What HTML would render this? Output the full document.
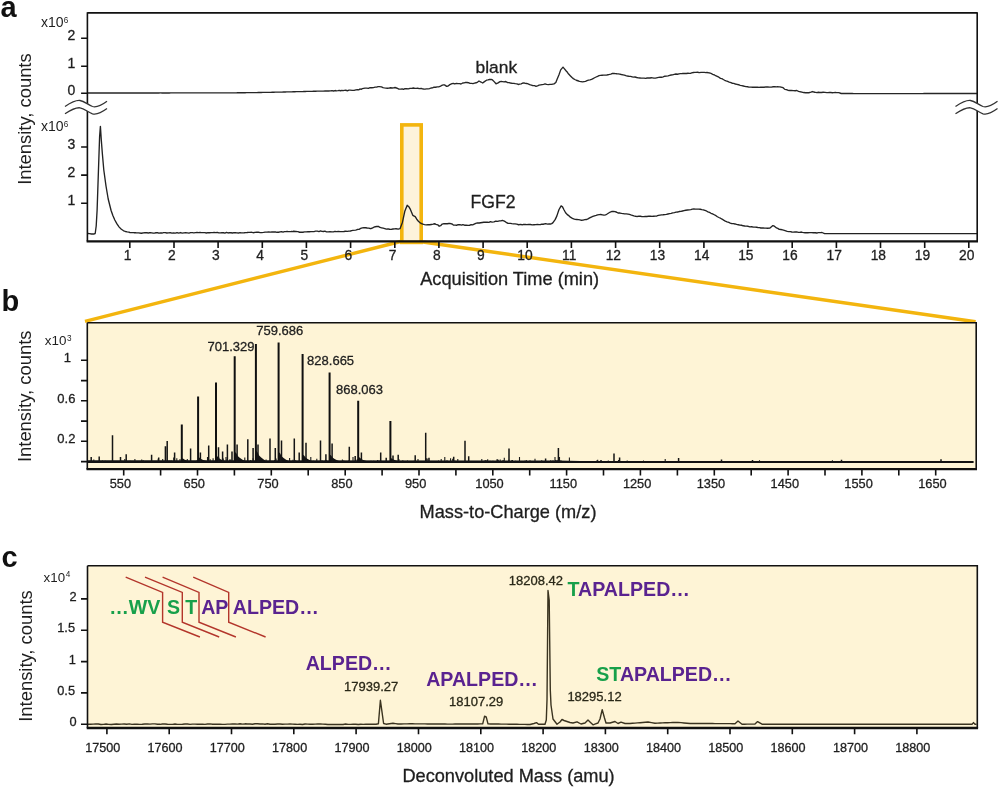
<!DOCTYPE html>
<html><head><meta charset="utf-8"><style>
html,body{margin:0;padding:0;background:#fff;overflow:hidden;}
svg{display:block;font-family:"Liberation Sans", sans-serif;will-change:transform;}
</style></head><body>
<svg width="1000" height="789" viewBox="0 0 1000 789">
<rect x="0" y="0" width="1000" height="789" fill="#fff"/>
<rect x="401.8" y="124.9" width="19.4" height="117.5" fill="#FDF3DA" stroke="#F3B50E" stroke-width="3.6"/>
<path d="M400.6,241.5 L85,321.3 M423,242 L975.6,321.8" stroke="#F3B50E" stroke-width="3.4" fill="none"/>
<path d="M88.00,93.00 L88.78,93.00 L89.61,93.00 L90.50,93.00 L91.43,93.00 L92.40,93.00 L93.42,93.00 L94.49,93.00 L95.59,92.99 L96.74,92.99 L97.93,92.99 L99.16,92.99 L100.43,92.99 L101.73,92.99 L103.07,92.99 L104.44,92.99 L105.84,92.99 L107.28,92.99 L108.74,92.99 L110.23,92.99 L111.76,92.99 L113.30,92.98 L114.88,92.98 L116.47,92.98 L118.09,92.98 L119.73,92.98 L121.40,92.98 L123.07,92.98 L124.77,92.98 L126.48,92.98 L128.21,92.98 L129.96,92.98 L131.71,92.97 L133.48,92.97 L135.25,92.97 L137.04,92.97 L138.83,92.97 L140.62,92.97 L142.43,92.97 L144.23,92.97 L146.04,92.97 L147.85,92.96 L149.66,92.96 L151.47,92.96 L153.28,92.96 L155.08,92.96 L156.88,92.96 L158.67,92.96 L160.45,92.95 L162.23,92.95 L163.99,92.95 L165.74,92.95 L167.48,92.95 L169.21,92.95 L170.92,92.94 L172.61,92.94 L174.29,92.94 L175.95,92.94 L177.58,92.94 L179.20,92.93 L180.79,92.93 L182.36,92.93 L183.91,92.93 L185.42,92.93 L186.91,92.92 L188.37,92.92 L189.80,92.92 L191.20,92.92 L192.57,92.92 L193.90,92.91 L195.19,92.91 L196.45,92.91 L197.68,92.91 L198.86,92.90 L200.00,92.90 L202.26,92.89 L204.42,92.89 L206.50,92.89 L208.50,92.88 L210.41,92.88 L212.25,92.87 L214.02,92.87 L215.73,92.87 L217.37,92.86 L218.95,92.86 L220.48,92.86 L221.96,92.86 L223.40,92.85 L224.80,92.85 L226.16,92.84 L227.48,92.84 L228.78,92.84 L230.06,92.83 L231.32,92.83 L232.57,92.82 L233.80,92.81 L235.03,92.81 L236.25,92.80 L237.48,92.79 L238.72,92.78 L239.96,92.77 L241.23,92.76 L242.51,92.74 L243.82,92.73 L245.15,92.72 L246.52,92.70 L247.92,92.68 L249.37,92.66 L250.86,92.64 L252.40,92.62 L254.00,92.60 L255.41,92.58 L256.84,92.56 L258.29,92.53 L259.77,92.51 L261.27,92.48 L262.79,92.45 L264.33,92.42 L265.88,92.39 L267.45,92.36 L269.03,92.33 L270.62,92.30 L272.22,92.26 L273.83,92.23 L275.44,92.19 L277.07,92.16 L278.69,92.12 L280.32,92.08 L281.94,92.05 L283.57,92.01 L285.19,91.97 L286.81,91.93 L288.43,91.89 L290.03,91.85 L291.63,91.82 L293.21,91.78 L294.79,91.74 L296.34,91.70 L297.89,91.66 L299.42,91.63 L300.92,91.59 L302.41,91.55 L303.88,91.52 L305.32,91.48 L306.74,91.45 L308.13,91.41 L309.50,91.38 L310.83,91.35 L312.13,91.31 L313.40,91.28 L314.64,91.25 L315.84,91.23 L317.00,91.20 L319.14,91.15 L321.19,91.11 L323.17,91.07 L325.07,91.03 L326.89,91.00 L328.65,90.97 L330.34,90.80 L331.97,90.63 L333.53,91.01 L335.04,90.52 L336.50,90.86 L337.91,90.70 L339.27,90.42 L340.59,90.75 L341.87,90.35 L343.11,90.63 L344.32,90.30 L345.50,90.28 L346.66,90.50 L347.79,90.77 L348.90,90.16 L350.00,90.18 L352.23,90.35 L354.16,90.44 L355.85,89.96 L357.33,89.62 L358.67,89.87 L359.91,88.92 L361.12,89.36 L362.33,88.70 L363.61,88.39 L365.00,88.19 L366.66,88.15 L368.37,88.34 L370.10,87.61 L371.82,87.72 L373.50,87.57 L375.12,87.18 L376.65,87.18 L378.05,86.70 L379.30,86.65 L381.46,86.91 L382.98,87.68 L384.34,87.90 L386.00,88.05 L387.40,88.26 L388.94,88.06 L390.54,87.78 L392.14,88.03 L393.65,87.86 L395.00,87.50 L396.46,88.01 L397.53,88.39 L398.83,89.08 L401.00,89.18 L402.14,88.83 L403.48,89.34 L404.99,88.58 L406.61,88.73 L408.30,88.89 L410.02,88.30 L411.72,88.45 L413.37,87.99 L414.91,88.41 L416.30,88.43 L417.50,88.26 L419.58,88.59 L421.15,88.36 L422.43,88.91 L423.64,89.02 L425.00,89.06 L426.50,88.84 L428.00,88.91 L429.50,88.69 L431.00,87.99 L432.50,87.83 L434.05,87.06 L435.64,87.28 L437.22,86.93 L438.69,86.90 L440.00,86.46 L441.81,85.40 L443.28,84.85 L444.50,84.83 L446.70,86.32 L448.10,86.03 L449.84,84.63 L452.00,83.69 L453.32,83.47 L454.84,83.98 L456.46,83.48 L458.09,83.60 L459.63,83.70 L461.00,84.00 L462.71,83.00 L464.19,82.80 L465.57,82.43 L467.00,82.51 L468.50,82.71 L470.00,83.30 L471.50,83.35 L473.00,83.63 L474.55,83.16 L476.14,82.78 L477.66,82.06 L479.00,81.02 L480.99,82.03 L482.70,82.99 L484.46,81.62 L486.50,80.19 L487.90,79.93 L489.52,79.49 L491.12,79.31 L492.50,79.94 L494.38,81.87 L496.00,83.75 L497.66,83.14 L500.00,81.65 L501.19,81.47 L502.57,81.62 L504.09,81.82 L505.70,81.54 L507.36,82.46 L509.00,82.62 L510.47,82.97 L512.07,83.25 L513.71,83.31 L515.34,83.69 L516.89,83.80 L518.30,84.48 L519.50,84.15 L521.22,83.82 L522.28,83.22 L524.00,82.93 L525.19,83.30 L526.56,83.48 L528.08,83.95 L529.69,84.63 L531.33,85.10 L532.95,85.70 L534.50,85.62 L536.01,86.27 L537.54,85.86 L539.08,85.17 L540.60,84.89 L542.11,84.60 L543.58,84.29 L545.00,83.90 L546.66,84.43 L548.33,84.63 L549.97,84.34 L551.50,84.45 L552.86,84.11 L554.00,83.88 L555.83,82.43 L557.00,79.51 L558.89,75.00 L560.70,69.85 L563.00,67.09 L564.27,68.60 L566.00,70.71 L567.22,72.07 L568.62,74.07 L570.22,75.70 L572.00,77.51 L573.33,78.63 L574.78,79.48 L576.31,80.24 L577.89,80.75 L579.47,81.33 L581.00,81.55 L582.50,81.87 L584.00,81.58 L585.50,81.34 L587.00,80.67 L588.50,80.10 L590.00,79.84 L591.52,79.32 L593.06,78.54 L594.59,77.74 L596.11,76.99 L597.59,76.29 L599.00,75.58 L600.60,75.41 L602.11,75.25 L603.57,75.13 L605.02,75.13 L606.50,75.10 L607.98,74.75 L609.43,74.45 L610.89,74.07 L612.40,73.45 L614.00,73.49 L615.38,73.58 L616.78,73.78 L618.22,73.83 L619.72,74.14 L621.31,74.53 L623.00,74.87 L624.38,75.13 L625.86,75.60 L627.41,76.02 L629.00,76.29 L630.59,76.43 L632.14,76.79 L633.62,77.11 L635.00,77.02 L636.71,77.52 L638.33,77.85 L639.88,77.99 L641.33,78.12 L642.71,78.12 L644.00,78.06 L645.68,78.32 L647.09,77.99 L648.46,78.04 L650.00,78.01 L651.28,77.78 L652.53,77.87 L653.89,78.19 L655.50,78.08 L657.50,77.65 L658.72,77.45 L660.09,77.21 L661.59,77.25 L663.18,76.87 L664.81,76.23 L666.46,76.17 L668.09,75.89 L669.67,75.41 L671.15,74.98 L672.50,74.82 L674.26,74.34 L675.92,74.03 L677.47,74.22 L678.95,73.88 L680.35,73.66 L681.70,73.70 L683.00,73.37 L684.76,73.49 L686.43,73.49 L687.97,73.27 L689.34,73.33 L690.50,73.31 L691.62,72.84 L693.50,72.54 L694.59,72.35 L695.97,72.38 L697.56,72.23 L699.27,72.55 L701.04,72.30 L702.78,72.36 L704.40,72.44 L705.84,72.62 L707.00,72.47 L709.00,72.87 L710.00,73.01 L711.50,73.71 L712.72,74.27 L714.11,74.74 L715.62,75.72 L717.22,76.44 L718.86,77.19 L720.50,78.33 L721.88,78.70 L723.26,79.49 L724.66,80.26 L726.11,80.85 L727.63,81.39 L729.25,82.10 L731.00,82.72 L732.34,83.25 L733.81,83.38 L735.36,84.02 L736.96,84.31 L738.59,84.74 L740.22,85.36 L741.80,85.61 L743.31,85.98 L744.72,86.36 L746.00,86.68 L747.66,86.78 L748.85,87.05 L749.88,87.10 L751.04,87.15 L752.64,87.26 L755.00,87.18 L756.16,87.22 L757.50,87.19 L758.99,87.38 L760.60,87.24 L762.31,87.29 L764.09,87.28 L765.92,86.94 L767.76,87.03 L769.60,87.16 L771.40,87.09 L773.14,86.76 L774.80,86.74 L776.33,86.88 L777.73,86.73 L778.96,86.83 L780.00,86.81 L783.10,87.67 L783.95,88.58 L784.80,89.37 L786.31,89.56 L787.82,90.21 L789.60,90.47 L791.32,90.34 L793.27,90.67 L795.20,90.71 L796.80,90.48 L798.52,91.35 L800.40,91.76 L801.85,92.04 L803.64,92.54 L805.56,92.71 L807.35,92.60 L808.80,92.77 L810.98,92.22 L812.40,91.53 L814.80,92.27 L815.75,92.35 L816.91,92.55 L818.27,92.25 L819.79,92.50 L821.43,92.46 L823.17,92.28 L824.97,92.42 L826.80,92.55 L828.63,92.50 L830.43,92.31 L832.17,92.72 L833.81,92.64 L835.33,92.53 L836.69,92.55 L837.85,92.57 L838.80,92.60 L841.20,93.50 L841.99,93.50 L842.83,93.51 L843.72,93.51 L844.66,93.52 L845.64,93.52 L846.66,93.53 L847.73,93.53 L848.84,93.53 L849.99,93.54 L851.18,93.54 L852.41,93.54 L853.67,93.55 L854.98,93.55 L856.31,93.55 L857.69,93.55 L859.09,93.55 L860.53,93.56 L862.00,93.56 L863.49,93.56 L865.02,93.56 L866.57,93.56 L868.15,93.56 L869.76,93.56 L871.39,93.56 L873.04,93.57 L874.72,93.57 L876.41,93.57 L878.13,93.57 L879.86,93.57 L881.61,93.57 L883.38,93.57 L885.17,93.57 L886.97,93.57 L888.78,93.57 L890.60,93.57 L892.43,93.56 L894.28,93.56 L896.13,93.56 L897.99,93.56 L899.86,93.56 L901.73,93.56 L903.61,93.56 L905.49,93.56 L907.37,93.56 L909.25,93.56 L911.13,93.55 L913.01,93.55 L914.89,93.55 L916.77,93.55 L918.64,93.55 L920.50,93.55 L922.36,93.55 L924.21,93.54 L926.05,93.54 L927.89,93.54 L929.71,93.54 L931.51,93.54 L933.31,93.54 L935.09,93.53 L936.85,93.53 L938.60,93.53 L940.33,93.53 L942.04,93.53 L943.73,93.53 L945.40,93.53 L947.05,93.52 L948.67,93.52 L950.27,93.52 L951.84,93.52 L953.39,93.52 L954.91,93.52 L956.40,93.51 L957.86,93.51 L959.29,93.51 L960.68,93.51 L962.04,93.51 L963.37,93.51 L964.67,93.51 L965.92,93.51 L967.14,93.50 L968.32,93.50 L969.46,93.50 L970.56,93.50 L971.61,93.50 L972.63,93.50 L973.59,93.50 L974.52,93.50 L975.39,93.50 L976.22,93.50 L977.00,93.50" fill="none" stroke="#262626" stroke-width="1.35" stroke-linejoin="round"/>
<path d="M88.00,233.50 L89.44,233.68 L91.54,233.97 L93.67,234.03 L95.20,233.50 L96.20,226.00 L97.10,210.20 L98.60,166.00 L99.60,136.70 L100.40,126.40 L101.30,140.00 L102.30,153.00 L103.80,170.00 L106.00,186.00 L108.20,199.00 L111.10,210.50 L112.86,215.53 L114.80,220.00 L116.96,223.91 L119.20,227.10 L121.35,229.31 L123.60,230.80 L125.35,231.47 L127.19,231.89 L128.80,232.20 L129.91,232.47 L132.00,232.60 L132.87,232.65 L133.58,232.69 L134.31,232.74 L135.26,232.78 L136.62,232.82 L138.57,232.86 L141.30,233.21 L145.00,232.62 L145.98,232.74 L147.02,232.58 L148.13,233.10 L149.29,232.75 L150.52,232.65 L151.79,232.85 L153.12,233.20 L154.50,233.13 L155.91,232.74 L157.37,232.66 L158.87,233.20 L160.41,232.95 L161.97,233.04 L163.57,232.61 L165.19,232.58 L166.84,233.02 L168.50,232.83 L170.19,232.58 L171.89,233.18 L173.59,232.97 L175.31,233.08 L177.03,232.57 L178.76,233.11 L180.48,232.55 L182.20,233.10 L183.91,232.81 L185.62,232.73 L187.31,232.87 L188.98,233.13 L190.64,232.66 L192.27,232.56 L193.88,232.84 L195.46,232.63 L197.01,232.54 L198.52,232.57 L200.00,232.49 L201.59,232.59 L203.18,232.66 L204.76,232.65 L206.34,232.97 L207.91,232.64 L209.48,232.78 L211.05,232.55 L212.61,232.67 L214.17,232.44 L215.72,232.60 L217.27,232.43 L218.82,232.93 L220.36,232.80 L221.90,232.55 L223.43,232.74 L224.95,233.06 L226.47,232.48 L227.99,232.97 L229.50,232.70 L231.00,232.74 L232.50,232.97 L233.99,232.65 L235.48,232.73 L236.96,232.85 L238.44,233.04 L239.90,232.59 L241.37,232.92 L242.82,232.82 L244.27,232.76 L245.71,232.58 L247.15,232.53 L248.58,232.31 L250.00,232.34 L251.63,232.28 L253.28,232.72 L254.95,232.35 L256.65,232.25 L258.35,232.16 L260.07,232.65 L261.79,232.63 L263.52,232.45 L265.24,232.13 L266.96,232.06 L268.67,232.04 L270.36,232.11 L272.04,231.86 L273.70,232.01 L275.34,231.84 L276.95,232.28 L278.52,232.24 L280.07,231.90 L281.57,231.65 L283.03,232.12 L284.44,231.62 L285.80,231.62 L287.11,231.34 L288.36,231.58 L289.55,231.62 L290.67,231.63 L291.72,231.40 L292.70,231.61 L293.60,231.25 L297.78,231.59 L299.03,231.81 L299.16,232.37 L300.00,232.28 L301.45,232.20 L302.94,232.22 L304.51,231.94 L306.18,231.94 L308.00,231.72 L309.40,231.77 L310.87,231.61 L312.40,231.56 L313.99,231.59 L315.62,231.18 L317.30,231.09 L319.00,231.54 L320.48,230.98 L321.93,231.45 L323.39,231.48 L324.89,231.16 L326.47,231.81 L328.15,231.93 L329.99,231.79 L332.00,231.86 L333.39,231.89 L334.93,231.38 L336.60,231.59 L338.35,231.51 L340.16,231.66 L342.00,231.56 L343.82,231.48 L345.61,231.22 L347.32,231.34 L348.93,231.10 L350.40,231.01 L351.70,230.60 L352.80,230.37 L355.53,230.12 L356.47,229.95 L357.60,229.32 L359.09,229.31 L360.70,228.46 L362.36,227.92 L364.00,227.59 L365.60,227.73 L367.20,227.99 L368.80,228.05 L370.40,228.71 L372.00,228.27 L373.60,227.38 L375.20,226.73 L376.80,226.51 L378.40,226.36 L380.00,227.45 L381.60,227.81 L383.20,228.20 L384.80,228.61 L386.40,229.11 L388.00,228.84 L389.60,229.27 L391.26,229.42 L392.95,229.00 L394.57,228.81 L396.00,228.79 L398.25,229.14 L400.00,228.69 L402.40,222.48 L404.80,211.30 L407.20,205.30 L408.80,206.65 L410.40,209.43 L412.80,215.37 L415.20,216.66 L416.75,219.22 L418.40,221.26 L419.80,222.57 L421.60,223.54 L422.94,224.21 L424.50,224.57 L426.21,224.81 L428.00,224.65 L429.57,224.73 L431.32,224.46 L433.07,224.19 L434.68,223.75 L436.00,224.28 L437.80,224.83 L439.20,226.23 L440.62,225.69 L442.22,224.08 L444.00,223.67 L445.52,223.73 L447.20,223.79 L448.88,223.50 L450.40,223.54 L452.12,223.99 L453.66,225.18 L455.20,225.10 L456.62,225.28 L458.04,224.66 L460.00,224.72 L461.32,225.05 L462.84,224.59 L464.50,225.22 L466.22,225.12 L467.94,225.44 L469.60,225.24 L471.16,224.70 L472.68,224.83 L474.20,224.13 L475.76,223.39 L477.41,222.97 L479.20,222.99 L480.66,222.78 L482.23,222.52 L483.87,222.27 L485.55,222.29 L487.24,222.15 L488.89,222.40 L490.49,221.69 L492.00,222.08 L493.93,221.89 L495.82,221.08 L497.65,221.33 L499.38,220.92 L500.97,220.89 L502.40,220.45 L504.36,221.07 L505.78,222.05 L508.00,223.35 L509.19,223.32 L510.47,223.41 L511.85,223.70 L513.35,223.82 L514.98,223.87 L516.76,224.09 L518.69,224.74 L520.80,224.45 L522.13,224.94 L523.61,224.47 L525.20,224.48 L526.87,224.64 L528.62,224.38 L530.40,224.48 L532.20,224.84 L533.99,224.74 L535.75,224.63 L537.45,224.44 L539.07,224.57 L540.59,224.53 L541.97,224.19 L543.20,224.25 L545.61,223.71 L547.56,224.17 L549.15,223.93 L550.49,224.02 L551.67,223.64 L552.80,222.85 L555.13,219.63 L556.80,216.10 L558.92,209.72 L561.10,205.89 L562.51,206.88 L563.95,209.74 L565.60,212.71 L567.07,214.38 L568.68,215.61 L570.36,217.18 L572.00,218.11 L573.60,218.94 L575.20,219.30 L576.80,219.46 L578.40,219.65 L579.96,219.86 L581.50,220.28 L583.09,220.06 L584.80,219.68 L586.32,219.52 L587.96,218.91 L589.64,217.92 L591.28,217.05 L592.80,216.46 L594.51,215.81 L596.10,215.38 L597.64,214.83 L599.20,214.59 L600.80,214.54 L602.40,214.81 L604.00,215.05 L605.60,214.81 L607.16,213.97 L608.70,212.96 L610.29,212.04 L612.00,211.45 L613.50,211.47 L615.08,211.67 L616.72,212.24 L618.37,213.03 L620.00,213.04 L621.57,213.43 L623.12,213.65 L624.68,213.91 L626.30,213.82 L628.00,214.10 L629.43,214.40 L630.84,214.86 L632.30,215.30 L633.87,215.93 L635.61,216.22 L637.60,216.46 L638.95,216.17 L640.42,216.23 L641.98,216.56 L643.62,216.66 L645.30,216.46 L647.01,216.47 L648.72,216.16 L650.40,216.26 L652.04,216.40 L653.60,216.24 L655.26,216.11 L656.88,215.97 L658.46,215.44 L660.02,215.14 L661.58,214.90 L663.14,214.79 L664.72,214.57 L666.34,214.39 L668.00,214.00 L669.55,213.68 L671.15,213.41 L672.78,212.94 L674.44,212.64 L676.10,212.06 L677.75,212.04 L679.38,211.46 L680.98,211.44 L682.52,211.02 L684.00,210.61 L685.77,210.24 L687.50,210.00 L689.17,209.89 L690.80,209.67 L692.38,209.20 L693.90,209.03 L695.38,209.13 L696.80,209.14 L698.59,209.13 L700.24,209.25 L701.80,209.69 L703.32,209.81 L704.84,210.39 L706.40,210.98 L707.96,211.81 L709.48,212.38 L711.00,213.27 L712.56,213.94 L714.21,214.74 L716.00,215.69 L717.42,216.77 L718.90,217.51 L720.43,218.23 L722.00,219.03 L723.62,220.14 L725.30,221.09 L727.03,221.77 L728.80,222.39 L730.27,223.05 L731.80,223.60 L733.36,223.69 L734.97,223.96 L736.60,224.43 L738.25,224.77 L739.90,225.17 L741.55,225.24 L743.19,225.77 L744.80,226.01 L746.44,226.16 L748.15,226.27 L749.90,226.83 L751.66,226.75 L753.40,227.17 L755.09,227.09 L756.71,227.26 L758.21,227.65 L759.59,227.58 L760.80,228.00 L763.16,228.04 L764.83,228.05 L766.08,228.14 L767.20,228.26 L770.00,228.07 L772.90,225.60 L774.39,226.22 L776.50,227.95 L777.77,228.41 L779.26,229.31 L780.88,229.50 L782.59,229.97 L784.30,230.41 L785.74,230.86 L787.24,231.34 L788.77,231.56 L790.32,231.68 L791.87,231.97 L793.40,232.09 L794.99,231.94 L796.67,231.96 L798.36,232.34 L799.95,232.30 L801.36,232.03 L802.50,232.37 L805.10,232.75 L806.29,232.77 L807.83,232.77 L809.61,232.70 L811.52,232.63 L813.43,232.75 L815.25,232.77 L816.84,233.02 L818.10,232.63 L820.70,232.58 L822.00,232.50 L824.60,233.60 L825.39,233.61 L826.22,233.61 L827.10,233.62 L828.01,233.62 L828.97,233.62 L829.97,233.63 L831.01,233.63 L832.08,233.64 L833.19,233.64 L834.34,233.64 L835.53,233.65 L836.74,233.65 L838.00,233.65 L839.28,233.66 L840.60,233.66 L841.95,233.66 L843.33,233.66 L844.73,233.67 L846.17,233.67 L847.64,233.67 L849.13,233.67 L850.64,233.67 L852.18,233.67 L853.75,233.68 L855.34,233.68 L856.95,233.68 L858.58,233.68 L860.24,233.68 L861.91,233.68 L863.60,233.68 L865.31,233.68 L867.04,233.68 L868.78,233.68 L870.54,233.68 L872.31,233.68 L874.09,233.68 L875.89,233.68 L877.70,233.68 L879.52,233.68 L881.35,233.68 L883.19,233.68 L885.04,233.68 L886.90,233.68 L888.76,233.68 L890.63,233.68 L892.50,233.67 L894.38,233.67 L896.26,233.67 L898.14,233.67 L900.02,233.67 L901.90,233.67 L903.79,233.67 L905.67,233.67 L907.55,233.66 L909.42,233.66 L911.29,233.66 L913.16,233.66 L915.02,233.66 L916.87,233.66 L918.72,233.65 L920.56,233.65 L922.38,233.65 L924.20,233.65 L926.01,233.65 L927.80,233.64 L929.59,233.64 L931.35,233.64 L933.11,233.64 L934.85,233.64 L936.57,233.64 L938.27,233.63 L939.96,233.63 L941.63,233.63 L943.27,233.63 L944.90,233.63 L946.50,233.63 L948.09,233.62 L949.64,233.62 L951.18,233.62 L952.69,233.62 L954.17,233.62 L955.63,233.62 L957.06,233.61 L958.46,233.61 L959.83,233.61 L961.16,233.61 L962.47,233.61 L963.75,233.61 L964.99,233.61 L966.20,233.61 L967.37,233.60 L968.51,233.60 L969.61,233.60 L970.68,233.60 L971.70,233.60 L972.69,233.60 L973.64,233.60 L974.54,233.60 L975.40,233.60 L976.22,233.60 L977.00,233.60" fill="none" stroke="#222" stroke-width="1.35" stroke-linejoin="round"/>
<path d="M87.4,12.9 L977.2,12.9 M87.4,12.200000000000001 L87.4,241.3 M977.2,12.200000000000001 L977.2,241.3" stroke="#111" stroke-width="1.6" fill="none"/>
<path d="M86.60000000000001,241.3 L978.0,241.3" stroke="#111" stroke-width="2.3" fill="none"/>
<path d="M129.8,241.3 L129.8,248.10000000000002 M174.0,241.3 L174.0,248.10000000000002 M218.1,241.3 L218.1,248.10000000000002 M262.3,241.3 L262.3,248.10000000000002 M306.4,241.3 L306.4,248.10000000000002 M350.6,241.3 L350.6,248.10000000000002 M394.8,241.3 L394.8,248.10000000000002 M438.9,241.3 L438.9,248.10000000000002 M483.1,241.3 L483.1,248.10000000000002 M527.2,241.3 L527.2,248.10000000000002 M571.4,241.3 L571.4,248.10000000000002 M615.6,241.3 L615.6,248.10000000000002 M659.7,241.3 L659.7,248.10000000000002 M703.9,241.3 L703.9,248.10000000000002 M748.0,241.3 L748.0,248.10000000000002 M792.2,241.3 L792.2,248.10000000000002 M836.4,241.3 L836.4,248.10000000000002 M880.5,241.3 L880.5,248.10000000000002 M924.7,241.3 L924.7,248.10000000000002 M968.8,241.3 L968.8,248.10000000000002 " stroke="#111" stroke-width="1.6"/>
<text x="127.60" y="259.60" font-size="13.8" text-anchor="middle" fill="#1e1e1e" stroke="#1e1e1e" stroke-width="0.3">1</text>
<text x="171.76" y="259.60" font-size="13.8" text-anchor="middle" fill="#1e1e1e" stroke="#1e1e1e" stroke-width="0.3">2</text>
<text x="215.92" y="259.60" font-size="13.8" text-anchor="middle" fill="#1e1e1e" stroke="#1e1e1e" stroke-width="0.3">3</text>
<text x="260.08" y="259.60" font-size="13.8" text-anchor="middle" fill="#1e1e1e" stroke="#1e1e1e" stroke-width="0.3">4</text>
<text x="304.24" y="259.60" font-size="13.8" text-anchor="middle" fill="#1e1e1e" stroke="#1e1e1e" stroke-width="0.3">5</text>
<text x="348.40" y="259.60" font-size="13.8" text-anchor="middle" fill="#1e1e1e" stroke="#1e1e1e" stroke-width="0.3">6</text>
<text x="392.56" y="259.60" font-size="13.8" text-anchor="middle" fill="#1e1e1e" stroke="#1e1e1e" stroke-width="0.3">7</text>
<text x="436.72" y="259.60" font-size="13.8" text-anchor="middle" fill="#1e1e1e" stroke="#1e1e1e" stroke-width="0.3">8</text>
<text x="480.88" y="259.60" font-size="13.8" text-anchor="middle" fill="#1e1e1e" stroke="#1e1e1e" stroke-width="0.3">9</text>
<text x="525.04" y="259.60" font-size="13.8" text-anchor="middle" fill="#1e1e1e" stroke="#1e1e1e" stroke-width="0.3">10</text>
<text x="569.20" y="259.60" font-size="13.8" text-anchor="middle" fill="#1e1e1e" stroke="#1e1e1e" stroke-width="0.3">11</text>
<text x="613.36" y="259.60" font-size="13.8" text-anchor="middle" fill="#1e1e1e" stroke="#1e1e1e" stroke-width="0.3">12</text>
<text x="657.52" y="259.60" font-size="13.8" text-anchor="middle" fill="#1e1e1e" stroke="#1e1e1e" stroke-width="0.3">13</text>
<text x="701.68" y="259.60" font-size="13.8" text-anchor="middle" fill="#1e1e1e" stroke="#1e1e1e" stroke-width="0.3">14</text>
<text x="745.84" y="259.60" font-size="13.8" text-anchor="middle" fill="#1e1e1e" stroke="#1e1e1e" stroke-width="0.3">15</text>
<text x="790.00" y="259.60" font-size="13.8" text-anchor="middle" fill="#1e1e1e" stroke="#1e1e1e" stroke-width="0.3">16</text>
<text x="834.16" y="259.60" font-size="13.8" text-anchor="middle" fill="#1e1e1e" stroke="#1e1e1e" stroke-width="0.3">17</text>
<text x="878.32" y="259.60" font-size="13.8" text-anchor="middle" fill="#1e1e1e" stroke="#1e1e1e" stroke-width="0.3">18</text>
<text x="922.48" y="259.60" font-size="13.8" text-anchor="middle" fill="#1e1e1e" stroke="#1e1e1e" stroke-width="0.3">19</text>
<text x="966.64" y="259.60" font-size="13.8" text-anchor="middle" fill="#1e1e1e" stroke="#1e1e1e" stroke-width="0.3">20</text>
<path d="M81.10000000000001,38.3 L87.4,38.3 M81.10000000000001,66.2 L87.4,66.2 M81.10000000000001,93.2 L87.4,93.2 M81.10000000000001,147.0 L87.4,147.0 M81.10000000000001,175.1 L87.4,175.1 M81.10000000000001,203.2 L87.4,203.2 " stroke="#111" stroke-width="1.6"/>
<text x="75.20" y="40.10" font-size="14" text-anchor="end" fill="#1e1e1e" stroke="#1e1e1e" stroke-width="0.3">2</text>
<text x="75.20" y="68.00" font-size="14" text-anchor="end" fill="#1e1e1e" stroke="#1e1e1e" stroke-width="0.3">1</text>
<text x="75.20" y="95.00" font-size="14" text-anchor="end" fill="#1e1e1e" stroke="#1e1e1e" stroke-width="0.3">0</text>
<text x="75.20" y="148.80" font-size="14" text-anchor="end" fill="#1e1e1e" stroke="#1e1e1e" stroke-width="0.3">3</text>
<text x="75.20" y="176.90" font-size="14" text-anchor="end" fill="#1e1e1e" stroke="#1e1e1e" stroke-width="0.3">2</text>
<text x="75.20" y="205.00" font-size="14" text-anchor="end" fill="#1e1e1e" stroke="#1e1e1e" stroke-width="0.3">1</text>
<text x="40.9" y="26.6" font-size="14" fill="#1e1e1e">x10<tspan font-size="8.2" dx="0.3" dy="-3.8">6</tspan></text>
<text x="40.9" y="131.2" font-size="14" fill="#1e1e1e">x10<tspan font-size="8.2" dx="0.3" dy="-3.8">6</tspan></text>
<path d="M65,106.5 C71,102.5 76,100.0 80,100.5 C84.5,101.0 88,105.0 92.5,106.5 C97,107.8 102,105.0 107,101.3 L107,108.6 C102,112.3 97,115.1 92.5,113.8 C88,112.3 84.5,108.3 80,107.8 C76,107.3 71,109.8 65,113.8 Z" fill="#fff" stroke="none"/>
<path d="M65,106.5 C71,102.5 76,100.0 80,100.5 C84.5,101.0 88,105.0 92.5,106.5 C97,107.8 102,105.0 107,101.3 M65,113.8 C71,109.8 76,107.3 80,107.8 C84.5,108.3 88,112.3 92.5,113.8 C97,115.1 102,112.3 107,108.6" fill="none" stroke="#333" stroke-width="1.3"/>
<path d="M955.5,106.5 C961.5,102.5 966.5,100.0 970.5,100.5 C975.0,101.0 978.5,105.0 983.0,106.5 C987.5,107.8 992.5,105.0 997.5,101.3 L997.5,108.6 C992.5,112.3 987.5,115.1 983.0,113.8 C978.5,112.3 975.0,108.3 970.5,107.8 C966.5,107.3 961.5,109.8 955.5,113.8 Z" fill="#fff" stroke="none"/>
<path d="M955.5,106.5 C961.5,102.5 966.5,100.0 970.5,100.5 C975.0,101.0 978.5,105.0 983.0,106.5 C987.5,107.8 992.5,105.0 997.5,101.3 M955.5,113.8 C961.5,109.8 966.5,107.3 970.5,107.8 C975.0,108.3 978.5,112.3 983.0,113.8 C987.5,115.1 992.5,112.3 997.5,108.6" fill="none" stroke="#333" stroke-width="1.3"/>
<text x="475.50" y="72.60" font-size="17.4" fill="#1e1e1e" stroke="#1e1e1e" stroke-width="0.3">blank</text>
<text x="470.60" y="208.30" font-size="17.6" fill="#1e1e1e" stroke="#1e1e1e" stroke-width="0.3">FGF2</text>
<text x="420.20" y="285.00" font-size="18.2" fill="#1e1e1e" stroke="#1e1e1e" stroke-width="0.3">Acquisition Time (min)</text>
<text transform="translate(30.6,119.1) rotate(-90)" font-size="18.4" text-anchor="middle" fill="#1e1e1e">Intensity, counts</text>
<text x="0.60" y="16.80" font-size="29" font-weight="bold" fill="#111">a</text>
<rect x="87.3" y="322.8" width="888.9000000000001" height="146.39999999999998" fill="#FEF4D6"/>
<path d="M181.8,462 L181.8,458.2 L183.3,458.7 L184.8,459.8 L186.8,460.4 L189.3,461.1 L191.8,461.6 L192.8,462 Z M198.1,462 L198.1,457.1 L199.6,457.7 L201.1,459.1 L203.1,460.0 L205.6,460.8 L208.1,461.5 L209.1,462 Z M216.0,462 L216.0,455.6 L217.5,456.4 L219.0,458.2 L221.0,459.4 L223.5,460.5 L226.0,461.4 L227.0,462 Z M234.7,462 L234.7,451.9 L236.2,453.1 L237.7,456.0 L239.7,457.8 L242.2,459.6 L244.7,461.0 L245.7,462 Z M255.9,462 L255.9,450.7 L257.4,452.0 L258.9,455.3 L260.9,457.3 L263.4,459.3 L265.9,460.9 L266.9,462 Z M278.6,462 L278.6,452.1 L280.1,453.3 L281.6,456.2 L283.6,457.9 L286.1,459.7 L288.6,461.1 L289.6,462 Z M302.6,462 L302.6,454.5 L304.1,455.4 L305.6,457.6 L307.6,458.9 L310.1,460.2 L312.6,461.3 L313.6,462 Z M329.6,462 L329.6,454.5 L331.1,455.4 L332.6,457.6 L334.6,458.9 L337.1,460.2 L339.6,461.3 L340.6,462 Z M358.2,462 L358.2,457.1 L359.7,457.6 L361.2,459.1 L363.2,460.0 L365.7,460.8 L368.2,461.5 L369.2,462 Z M390.4,462 L390.4,457.9 L391.9,458.4 L393.4,459.6 L395.4,460.3 L397.9,461.0 L400.4,461.6 L401.4,462 Z " fill="#151515" stroke="none"/>
<path d="M88,460.2 L558,460.4 L580,460.9 L973.6,461.1 L973.6,462.9 L88,462.9 Z" fill="#111" stroke="none"/>
<path d="M88.5,461.5 L88.5,460.9 M90.0,461.5 L90.0,460.8 M93.8,461.5 L93.8,459.6 M102.5,461.5 L102.5,460.6 M105.2,461.5 L105.2,460.7 M111.2,461.5 L111.2,460.9 M120.8,461.5 L120.8,460.7 M124.8,461.5 L124.8,458.9 M130.1,461.5 L130.1,460.8 M134.9,461.5 L134.9,459.1 M141.7,461.5 L141.7,459.4 M143.2,461.5 L143.2,460.2 M144.5,461.5 L144.5,460.9 M158.2,461.5 L158.2,458.7 M162.7,461.5 L162.7,459.1 M167.7,461.5 L167.7,460.1 M169.8,461.5 L169.8,460.5 M171.3,461.5 L171.3,460.6 M173.7,461.5 L173.7,457.5 M176.8,461.5 L176.8,458.2 M180.0,461.5 L180.0,458.9 M187.3,461.5 L187.3,459.0 M190.5,461.5 L190.5,460.3 M196.7,461.5 L196.7,460.6 M197.6,461.5 L197.6,460.7 M198.4,461.5 L198.4,460.5 M207.5,461.5 L207.5,457.0 M210.2,461.5 L210.2,459.3 M211.7,461.5 L211.7,460.9 M213.1,461.5 L213.1,458.3 M218.8,461.5 L218.8,457.6 M223.2,461.5 L223.2,458.6 M226.0,461.5 L226.0,457.0 M227.3,461.5 L227.3,459.3 M229.6,461.5 L229.6,459.5 M230.7,461.5 L230.7,459.6 M236.3,461.5 L236.3,460.2 M241.4,461.5 L241.4,460.9 M243.6,461.5 L243.6,460.1 M244.8,461.5 L244.8,457.6 M250.6,461.5 L250.6,460.0 M253.1,461.5 L253.1,458.2 M256.5,461.5 L256.5,460.4 M266.1,461.5 L266.1,459.6 M274.5,461.5 L274.5,460.1 M276.1,461.5 L276.1,458.5 M279.7,461.5 L279.7,458.5 M280.7,461.5 L280.7,458.2 M289.6,461.5 L289.6,458.1 M292.9,461.5 L292.9,459.8 M295.6,461.5 L295.6,460.3 M310.8,461.5 L310.8,457.0 M313.3,461.5 L313.3,460.8 M316.8,461.5 L316.8,458.7 M320.8,461.5 L320.8,460.6 M322.2,461.5 L322.2,460.5 M325.4,461.5 L325.4,459.8 M326.6,461.5 L326.6,460.1 M330.1,461.5 L330.1,460.8 M336.5,461.5 L336.5,460.4 M342.4,461.5 L342.4,459.4 M343.7,461.5 L343.7,460.6 M348.7,461.5 L348.7,460.5 M353.0,461.5 L353.0,457.0 M355.5,461.5 L355.5,460.1 M356.4,461.5 L356.4,460.8 M357.3,461.5 L357.3,459.3 M361.2,461.5 L361.2,459.6 M362.7,461.5 L362.7,460.3 M371.0,461.5 L371.0,460.7 M373.7,461.5 L373.7,460.7 M377.6,461.5 L377.6,460.0 M379.0,461.5 L379.0,460.6 M380.6,461.5 L380.6,460.4 M394.2,461.5 L394.2,460.7 M399.0,461.5 L399.0,459.2 M402.8,461.5 L402.8,460.3 M407.5,461.5 L407.5,460.4 M414.1,461.5 L414.1,460.7 M418.0,461.5 L418.0,459.0 M426.3,461.5 L426.3,458.2 M427.8,461.5 L427.8,458.4 M438.5,461.5 L438.5,460.6 M441.2,461.5 L441.2,458.9 M444.8,461.5 L444.8,457.0 M447.0,461.5 L447.0,460.2 M450.6,461.5 L450.6,458.3 M452.7,461.5 L452.7,458.7 M453.8,461.5 L453.8,460.5 M455.2,461.5 L455.2,460.7 M457.8,461.5 L457.8,459.0 M481.8,461.5 L481.8,459.1 M484.2,461.5 L484.2,460.7 M485.3,461.5 L485.3,460.1 M486.8,461.5 L486.8,460.3 M487.7,461.5 L487.7,459.2 M490.1,461.5 L490.1,460.8 M492.9,461.5 L492.9,460.8 M498.3,461.5 L498.3,459.7 M500.2,461.5 L500.2,459.4 M503.0,461.5 L503.0,460.1 M504.3,461.5 L504.3,457.7 M508.9,461.5 L508.9,459.7 M511.0,461.5 L511.0,460.9 M512.3,461.5 L512.3,459.9 M515.6,461.5 L515.6,460.8 M519.5,461.5 L519.5,457.0 M524.8,461.5 L524.8,460.7 M526.3,461.5 L526.3,459.9 M530.0,461.5 L530.0,460.3 M535.0,461.5 L535.0,458.8 M541.7,461.5 L541.7,460.2 M550.7,461.5 L550.7,460.3 M553.0,461.5 L553.0,460.3 M555.0,461.5 L555.0,457.0 M556.1,461.5 L556.1,460.1 M557.6,461.5 L557.6,460.2 M559.5,461.5 L559.5,457.0 M560.9,461.5 L560.9,460.3 M569.4,461.5 L569.4,457.4 M570.9,461.5 L570.9,460.9 M596.7,461.5 L596.7,460.6 M597.7,461.5 L597.7,459.7 M608.3,461.5 L608.3,460.6 M618.5,461.5 L618.5,459.9 M627.2,461.5 L627.2,460.6 M643.5,461.5 L643.5,460.6 M665.2,461.5 L665.2,459.1 M759.5,461.5 L759.5,460.3 M832.4,461.5 L832.4,460.3 " stroke="#1a1a1a" stroke-width="1.1" fill="none"/>
<path d="M181.8,462 L181.8,424.4 M198.1,462 L198.1,396.6 M216.0,462 L216.0,382.4 M234.7,462 L234.7,356.3 M255.9,462 L255.9,344.0 M278.6,462 L278.6,342.5 M302.6,462 L302.6,354.0 M329.6,462 L329.6,372.6 M358.2,462 L358.2,400.7 M390.4,462 L390.4,421.0 " stroke="#101010" stroke-width="2.0" fill="none"/>
<path d="M91.2,462 L91.2,457.0 M99.2,462 L99.2,456.4 M112.5,462 L112.5,435.3 M120.5,462 L120.5,457.0 M126.2,462 L126.2,454.3 M151.6,462 L151.6,454.8 M158.7,462 L158.7,457.5 M165.4,462 L165.4,446.3 M167.2,462 L167.2,441.0 M174.6,462 L174.6,452.5 M190.6,462 L190.6,448.6 M200.4,462 L200.4,452.5 M208.7,462 L208.7,445.4 M218.5,462 L218.5,447.2 M222.6,462 L222.6,451.6 M227.4,462 L227.4,444.5 M232.0,462 L232.0,451.6 M237.1,462 L237.1,444.5 M247.8,462 L247.8,439.2 M253.1,462 L253.1,448.0 M258.0,462 L258.0,444.5 M270.0,462 L270.0,438.6 M275.3,462 L275.3,448.0 M281.5,462 L281.5,440.4 M294.3,462 L294.3,438.6 M299.2,462 L299.2,452.5 M306.0,462 L306.0,442.7 M320.5,462 L320.5,440.4 M325.9,462 L325.9,454.3 M332.1,462 L332.1,443.6 M349.3,462 L349.3,446.8 M355.2,462 L355.2,456.0 M361.4,462 L361.4,452.5 M380.7,462 L380.7,452.5 M386.2,462 L386.2,457.7 M393.0,462 L393.0,455.5 M398.2,462 L398.2,454.7 M415.2,462 L415.2,455.2 M425.7,462 L425.7,432.7 M429.0,462 L429.0,457.7 M453.7,462 L453.7,456.7 M465.0,462 L465.0,440.8 M468.7,462 L468.7,456.2 M497.2,462 L497.2,459.2 M509.0,462 L509.0,448.4 M512.2,462 L512.2,460.0 M545.6,462 L545.6,458.6 M558.4,462 L558.4,448.0 M601.0,462 L601.0,460.0 M614.0,462 L614.0,453.6 M619.6,462 L619.6,457.6 M678.6,462 L678.6,458.0 M721.5,462 L721.5,459.5 M752.5,462 L752.5,460.0 M841.5,462 L841.5,459.8 M941.0,462 L941.0,459.3 " stroke="#151515" stroke-width="1.5" fill="none"/>
<path d="M87.3,322.8 L976.2,322.8 L976.2,469.2 M87.3,322.8 L87.3,469.2" stroke="#111" stroke-width="1.6" fill="none"/>
<path d="M86.5,469.2 L977.0,469.2" stroke="#111" stroke-width="2.3"/>
<path d="M123.7,469.2 L123.7,475.5 M160.6,469.2 L160.6,475.5 M197.5,469.2 L197.5,475.5 M234.4,469.2 L234.4,475.5 M271.3,469.2 L271.3,475.5 M308.2,469.2 L308.2,475.5 M345.2,469.2 L345.2,475.5 M382.1,469.2 L382.1,475.5 M419.0,469.2 L419.0,475.5 M455.9,469.2 L455.9,475.5 M492.8,469.2 L492.8,475.5 M529.7,469.2 L529.7,475.5 M566.6,469.2 L566.6,475.5 M603.5,469.2 L603.5,475.5 M640.4,469.2 L640.4,475.5 M677.4,469.2 L677.4,475.5 M714.3,469.2 L714.3,475.5 M751.2,469.2 L751.2,475.5 M788.1,469.2 L788.1,475.5 M825.0,469.2 L825.0,475.5 M861.9,469.2 L861.9,475.5 M898.8,469.2 L898.8,475.5 M935.7,469.2 L935.7,475.5 " stroke="#111" stroke-width="1.6"/>
<text x="120.40" y="487.80" font-size="12.8" text-anchor="middle" fill="#1e1e1e" stroke="#1e1e1e" stroke-width="0.3">550</text>
<text x="194.22" y="487.80" font-size="12.8" text-anchor="middle" fill="#1e1e1e" stroke="#1e1e1e" stroke-width="0.3">650</text>
<text x="268.04" y="487.80" font-size="12.8" text-anchor="middle" fill="#1e1e1e" stroke="#1e1e1e" stroke-width="0.3">750</text>
<text x="341.86" y="487.80" font-size="12.8" text-anchor="middle" fill="#1e1e1e" stroke="#1e1e1e" stroke-width="0.3">850</text>
<text x="415.68" y="487.80" font-size="12.8" text-anchor="middle" fill="#1e1e1e" stroke="#1e1e1e" stroke-width="0.3">950</text>
<text x="489.50" y="487.80" font-size="12.8" text-anchor="middle" fill="#1e1e1e" stroke="#1e1e1e" stroke-width="0.3">1050</text>
<text x="563.32" y="487.80" font-size="12.8" text-anchor="middle" fill="#1e1e1e" stroke="#1e1e1e" stroke-width="0.3">1150</text>
<text x="637.14" y="487.80" font-size="12.8" text-anchor="middle" fill="#1e1e1e" stroke="#1e1e1e" stroke-width="0.3">1250</text>
<text x="710.96" y="487.80" font-size="12.8" text-anchor="middle" fill="#1e1e1e" stroke="#1e1e1e" stroke-width="0.3">1350</text>
<text x="784.78" y="487.80" font-size="12.8" text-anchor="middle" fill="#1e1e1e" stroke="#1e1e1e" stroke-width="0.3">1450</text>
<text x="858.60" y="487.80" font-size="12.8" text-anchor="middle" fill="#1e1e1e" stroke="#1e1e1e" stroke-width="0.3">1550</text>
<text x="932.42" y="487.80" font-size="12.8" text-anchor="middle" fill="#1e1e1e" stroke="#1e1e1e" stroke-width="0.3">1650</text>
<path d="M81.0,461.6 L87.3,461.6 M81.0,441.3 L87.3,441.3 M81.0,421.1 L87.3,421.1 M81.0,400.8 L87.3,400.8 M81.0,380.6 L87.3,380.6 M81.0,360.3 L87.3,360.3 " stroke="#111" stroke-width="1.6"/>
<text x="70.90" y="361.60" font-size="13" text-anchor="end" fill="#1e1e1e" stroke="#1e1e1e" stroke-width="0.3">1</text>
<text x="75.40" y="402.60" font-size="13" text-anchor="end" fill="#1e1e1e" stroke="#1e1e1e" stroke-width="0.3">0.6</text>
<text x="75.40" y="442.60" font-size="13" text-anchor="end" fill="#1e1e1e" stroke="#1e1e1e" stroke-width="0.3">0.2</text>
<text x="44.8" y="344.8" font-size="13.4" fill="#1e1e1e">x10<tspan font-size="8.2" dx="0.6" dy="-3.5">3</tspan></text>
<text x="207.50" y="351.00" font-size="13" fill="#1e1e1e" stroke="#1e1e1e" stroke-width="0.3">701.329</text>
<text x="256.20" y="335.30" font-size="13" fill="#1e1e1e" stroke="#1e1e1e" stroke-width="0.3">759.686</text>
<text x="307.10" y="365.30" font-size="13" fill="#1e1e1e" stroke="#1e1e1e" stroke-width="0.3">828.665</text>
<text x="336.00" y="393.90" font-size="13" fill="#1e1e1e" stroke="#1e1e1e" stroke-width="0.3">868.063</text>
<text x="419.60" y="518.00" font-size="18.2" fill="#1e1e1e" stroke="#1e1e1e" stroke-width="0.3">Mass-to-Charge (m/z)</text>
<text transform="translate(30.8,396.3) rotate(-90)" font-size="18.4" text-anchor="middle" fill="#1e1e1e">Intensity, counts</text>
<text x="1.40" y="310.60" font-size="29" font-weight="bold" fill="#111">b</text>
<rect x="87.5" y="565.8" width="889.8" height="162.20000000000005" fill="#FEF4D6"/>
<path d="M88.00,724.30 L90.58,724.21 L93.17,724.08 L95.75,724.02 L98.33,723.97 L100.92,724.55 L103.50,724.40 L106.08,723.99 L108.67,724.36 L111.25,724.51 L113.83,724.25 L116.42,723.97 L119.00,724.19 L121.58,724.15 L124.17,724.00 L126.75,724.20 L129.33,723.87 L131.92,724.41 L134.50,724.24 L137.08,724.22 L139.67,724.39 L142.25,724.22 L144.83,723.97 L147.42,723.96 L150.00,724.10 L152.50,723.89 L155.00,723.83 L157.50,724.28 L160.00,724.32 L162.50,724.00 L165.00,723.94 L167.50,724.22 L170.00,724.35 L172.50,724.40 L175.00,723.95 L177.50,724.33 L180.00,724.36 L182.50,724.31 L185.00,724.07 L187.50,723.99 L190.00,724.38 L192.50,724.08 L195.00,724.11 L197.50,724.23 L200.00,724.20 L202.50,724.11 L205.00,724.38 L207.50,724.01 L210.00,723.88 L212.50,724.19 L215.00,724.22 L217.50,724.32 L220.00,724.24 L222.50,724.35 L225.00,724.37 L227.50,724.09 L230.00,724.08 L232.50,723.86 L235.00,723.94 L237.50,724.10 L240.00,723.79 L242.50,724.14 L245.00,723.82 L247.50,723.98 L250.00,724.00 L252.50,724.29 L255.00,723.77 L257.50,723.75 L260.00,724.00 L262.50,723.86 L265.00,724.19 L267.50,723.77 L270.00,724.28 L272.50,724.30 L275.00,724.27 L277.50,724.07 L280.00,723.99 L282.50,724.23 L285.00,724.15 L287.50,724.10 L290.00,724.06 L292.50,724.13 L295.00,724.28 L297.50,724.39 L300.00,724.20 L302.53,724.45 L305.07,724.01 L307.60,724.09 L310.13,724.18 L312.67,724.25 L315.20,724.13 L317.73,724.04 L320.27,723.98 L322.80,724.12 L325.33,724.21 L327.87,724.52 L330.40,724.49 L332.93,724.46 L335.47,724.53 L338.00,724.53 L340.53,724.33 L343.07,724.44 L345.60,724.00 L348.13,724.37 L350.67,724.33 L353.20,724.15 L355.73,724.32 L358.27,724.55 L360.80,724.27 L363.33,724.37 L365.87,724.17 L368.40,724.20 L370.93,724.29 L373.47,724.30 L376.00,724.30 L378.40,723.80 L380.40,700.30 L383.60,723.50 L386.00,724.20 L389.50,723.70 L393.00,723.20 L395.50,723.60 L398.00,724.00 L401.00,723.95 L404.00,723.90 L407.00,723.85 L410.00,723.80 L412.50,723.82 L415.00,723.84 L417.50,723.86 L420.00,723.88 L422.50,723.89 L425.00,723.91 L427.50,723.93 L430.00,723.95 L432.50,723.97 L435.00,723.99 L437.50,724.01 L440.00,724.02 L442.50,724.04 L445.00,724.06 L447.50,724.08 L450.00,724.10 L452.52,724.08 L455.03,724.07 L457.55,724.05 L460.06,724.04 L462.58,724.02 L465.09,724.01 L467.61,723.99 L470.12,723.98 L472.64,723.96 L475.15,723.95 L477.67,723.93 L480.18,723.92 L482.70,723.90 L484.60,716.20 L486.20,716.80 L488.00,723.90 L490.62,723.94 L493.25,723.98 L495.88,724.01 L498.50,724.05 L501.12,724.09 L503.75,724.12 L506.38,724.16 L509.00,724.20 L511.62,724.24 L514.25,724.27 L516.88,724.31 L519.50,724.35 L522.12,724.39 L524.75,724.42 L527.38,724.46 L530.00,724.50 L534.00,723.50 L536.50,722.60 L538.50,724.20 L541.75,724.25 L545.00,724.30 L546.30,720.00 L547.00,700.00 L548.00,590.50 L549.20,600.00 L550.30,690.00 L551.00,705.00 L553.00,719.00 L557.00,724.20 L560.00,722.00 L562.00,719.50 L564.00,720.50 L567.00,721.50 L570.00,722.50 L573.00,723.00 L577.00,721.80 L581.00,724.00 L585.00,723.00 L588.00,720.00 L590.50,722.40 L593.00,724.80 L595.50,723.90 L598.00,723.00 L600.00,719.00 L602.20,709.60 L604.50,718.00 L606.00,723.00 L610.00,723.00 L612.50,722.25 L615.00,721.50 L618.00,723.50 L621.00,722.20 L625.00,723.50 L627.50,723.50 L630.00,723.50 L632.50,723.30 L635.00,723.10 L637.50,722.90 L640.00,722.70 L642.67,722.47 L645.33,722.23 L648.00,722.00 L651.50,722.60 L655.00,723.20 L657.50,723.10 L660.00,723.00 L662.50,722.90 L665.00,722.80 L667.60,722.72 L670.20,722.64 L672.80,722.56 L675.40,722.48 L678.00,722.40 L681.00,722.67 L684.00,722.95 L687.00,723.23 L690.00,723.50 L692.50,723.50 L695.00,723.50 L697.50,723.50 L700.00,723.50 L702.50,723.51 L705.00,723.53 L707.50,723.54 L710.00,723.56 L712.50,723.57 L715.00,723.59 L717.50,723.60 L720.00,723.61 L722.50,723.63 L725.00,723.64 L727.50,723.66 L730.00,723.67 L732.50,723.69 L735.00,723.70 L738.00,721.00 L742.00,724.20 L744.60,724.18 L747.20,724.16 L749.80,724.14 L752.40,724.12 L755.00,724.10 L757.60,721.60 L762.00,724.20 L764.53,724.21 L767.07,724.21 L769.60,724.22 L772.13,724.23 L774.67,724.23 L777.20,724.24 L779.73,724.25 L782.27,724.25 L784.80,724.26 L787.33,724.27 L789.87,724.27 L792.40,724.28 L794.93,724.29 L797.47,724.29 L800.00,724.30 L802.50,724.30 L805.00,724.30 L807.50,724.30 L810.00,724.30 L812.50,724.30 L815.00,724.30 L817.50,724.30 L820.00,724.30 L822.50,724.30 L825.00,724.30 L827.50,724.30 L830.00,724.30 L832.50,724.30 L835.00,724.30 L837.50,724.30 L840.00,724.30 L842.50,724.30 L845.00,724.30 L847.50,724.30 L850.00,724.30 L852.50,724.30 L855.00,724.30 L857.50,724.30 L860.00,724.30 L862.50,724.30 L865.00,724.30 L867.50,724.30 L870.00,724.30 L872.50,724.30 L875.00,724.30 L877.50,724.30 L880.00,724.30 L882.50,724.30 L885.00,724.30 L887.50,724.30 L890.00,724.30 L892.50,724.30 L895.00,724.30 L897.50,724.30 L900.00,724.30 L902.57,724.30 L905.14,724.30 L907.71,724.30 L910.29,724.30 L912.86,724.30 L915.43,724.30 L918.00,724.30 L920.57,724.30 L923.14,724.30 L925.71,724.30 L928.29,724.30 L930.86,724.30 L933.43,724.30 L936.00,724.30 L938.57,724.30 L941.14,724.30 L943.71,724.30 L946.29,724.30 L948.86,724.30 L951.43,724.30 L954.00,724.30 L956.57,724.30 L959.14,724.30 L961.71,724.30 L964.29,724.30 L966.86,724.30 L969.43,724.30 L972.00,724.30 L973.50,722.60 L975.00,724.30 L976.50,724.30" fill="none" stroke="#3a3320" stroke-width="1.4" stroke-linejoin="round"/>
<path d="M87.5,565.8 L977.3,565.8 L977.3,728.0 M87.5,565.8 L87.5,728.0" stroke="#111" stroke-width="1.6" fill="none"/>
<path d="M86.7,728.0 L978.0999999999999,728.0" stroke="#111" stroke-width="2.3"/>
<path d="M106.9,728.0 L106.9,734.3 M169.2,728.0 L169.2,734.3 M231.5,728.0 L231.5,734.3 M293.8,728.0 L293.8,734.3 M356.1,728.0 L356.1,734.3 M418.5,728.0 L418.5,734.3 M480.8,728.0 L480.8,734.3 M543.1,728.0 L543.1,734.3 M605.4,728.0 L605.4,734.3 M667.7,728.0 L667.7,734.3 M730.0,728.0 L730.0,734.3 M792.3,728.0 L792.3,734.3 M854.6,728.0 L854.6,734.3 M916.9,728.0 L916.9,734.3 " stroke="#111" stroke-width="1.6"/>
<text x="102.70" y="752.20" font-size="12.6" text-anchor="middle" fill="#1e1e1e" stroke="#1e1e1e" stroke-width="0.3">17500</text>
<text x="165.01" y="752.20" font-size="12.6" text-anchor="middle" fill="#1e1e1e" stroke="#1e1e1e" stroke-width="0.3">17600</text>
<text x="227.32" y="752.20" font-size="12.6" text-anchor="middle" fill="#1e1e1e" stroke="#1e1e1e" stroke-width="0.3">17700</text>
<text x="289.63" y="752.20" font-size="12.6" text-anchor="middle" fill="#1e1e1e" stroke="#1e1e1e" stroke-width="0.3">17800</text>
<text x="351.94" y="752.20" font-size="12.6" text-anchor="middle" fill="#1e1e1e" stroke="#1e1e1e" stroke-width="0.3">17900</text>
<text x="414.25" y="752.20" font-size="12.6" text-anchor="middle" fill="#1e1e1e" stroke="#1e1e1e" stroke-width="0.3">18000</text>
<text x="476.56" y="752.20" font-size="12.6" text-anchor="middle" fill="#1e1e1e" stroke="#1e1e1e" stroke-width="0.3">18100</text>
<text x="538.87" y="752.20" font-size="12.6" text-anchor="middle" fill="#1e1e1e" stroke="#1e1e1e" stroke-width="0.3">18200</text>
<text x="601.18" y="752.20" font-size="12.6" text-anchor="middle" fill="#1e1e1e" stroke="#1e1e1e" stroke-width="0.3">18300</text>
<text x="663.49" y="752.20" font-size="12.6" text-anchor="middle" fill="#1e1e1e" stroke="#1e1e1e" stroke-width="0.3">18400</text>
<text x="725.80" y="752.20" font-size="12.6" text-anchor="middle" fill="#1e1e1e" stroke="#1e1e1e" stroke-width="0.3">18500</text>
<text x="788.11" y="752.20" font-size="12.6" text-anchor="middle" fill="#1e1e1e" stroke="#1e1e1e" stroke-width="0.3">18600</text>
<text x="850.42" y="752.20" font-size="12.6" text-anchor="middle" fill="#1e1e1e" stroke="#1e1e1e" stroke-width="0.3">18700</text>
<text x="912.73" y="752.20" font-size="12.6" text-anchor="middle" fill="#1e1e1e" stroke="#1e1e1e" stroke-width="0.3">18800</text>
<path d="M81.0,724.3 L87.5,724.3 M81.0,692.9 L87.5,692.9 M81.0,661.6 L87.5,661.6 M81.0,630.2 L87.5,630.2 M81.0,598.9 L87.5,598.9 " stroke="#111" stroke-width="1.6"/>
<text x="76.60" y="600.90" font-size="12.8" text-anchor="end" fill="#1e1e1e" stroke="#1e1e1e" stroke-width="0.3">2</text>
<text x="75.00" y="632.25" font-size="12.8" text-anchor="end" fill="#1e1e1e" stroke="#1e1e1e" stroke-width="0.3">1.5</text>
<text x="75.80" y="663.60" font-size="12.8" text-anchor="end" fill="#1e1e1e" stroke="#1e1e1e" stroke-width="0.3">1</text>
<text x="75.00" y="694.95" font-size="12.8" text-anchor="end" fill="#1e1e1e" stroke="#1e1e1e" stroke-width="0.3">0.5</text>
<text x="76.60" y="726.30" font-size="12.8" text-anchor="end" fill="#1e1e1e" stroke="#1e1e1e" stroke-width="0.3">0</text>
<text x="43.6" y="581.6" font-size="13.3" fill="#1e1e1e">x10<tspan font-size="8.2" dx="0.8" dy="-5">4</tspan></text>
<text x="402.40" y="782.10" font-size="18.2" fill="#1e1e1e" stroke="#1e1e1e" stroke-width="0.3">Deconvoluted Mass (amu)</text>
<text transform="translate(31.8,656) rotate(-90)" font-size="18.4" text-anchor="middle" fill="#1e1e1e">Intensity, counts</text>
<text x="1.60" y="567.30" font-size="29" font-weight="bold" fill="#111">c</text>
<text x="344.00" y="691.20" font-size="13" fill="#2a2818" stroke="#2a2818" stroke-width="0.3">17939.27</text>
<text x="449.10" y="706.00" font-size="13" fill="#2a2818" stroke="#2a2818" stroke-width="0.3">18107.29</text>
<text x="508.80" y="585.30" font-size="13" fill="#2a2818" stroke="#2a2818" stroke-width="0.3">18208.42</text>
<text x="567.40" y="700.90" font-size="13" fill="#2a2818" stroke="#2a2818" stroke-width="0.3">18295.12</text>
<text x="305.7" y="670.4" font-size="19.6" font-weight="bold"><tspan fill="#5A2390">ALPED…</tspan></text>
<text x="426.2" y="686.4" font-size="19.6" font-weight="bold"><tspan fill="#5A2390">APALPED…</tspan></text>
<text x="567.6" y="596.1" font-size="19.6" font-weight="bold"><tspan fill="#17A04A">T</tspan><tspan fill="#5A2390">APALPED…</tspan></text>
<text x="596.3" y="681.2" font-size="19.6" font-weight="bold"><tspan fill="#17A04A">ST</tspan><tspan fill="#5A2390">APALPED…</tspan></text>
<text x="109.2" y="614.3" font-size="19.6" font-weight="bold"><tspan fill="#17A04A">…WV</tspan></text>
<text x="166.9" y="614.3" font-size="19.6" font-weight="bold"><tspan fill="#17A04A">S</tspan></text>
<text x="185.3" y="614.3" font-size="19.6" font-weight="bold"><tspan fill="#17A04A">T</tspan></text>
<text x="201.2" y="614.3" font-size="19.6" font-weight="bold"><tspan fill="#5A2390">AP</tspan></text>
<text x="232.8" y="614.3" font-size="19.6" font-weight="bold"><tspan fill="#5A2390">ALPED…</tspan></text>
<path d="M125.7,577.2 L162.6,592.4 L162.6,622.2 L199.9,637 M145,577.2 L182.3,592.4 L182.3,622.2 L219.2,637 M162.6,577.2 L199,592.4 L199,622.2 L235.9,637 M193.2,577.2 L228.7,592.4 L228.7,622.2 L265.6,637 " fill="none" stroke="#B3352B" stroke-width="1.4"/>
</svg></body></html>
